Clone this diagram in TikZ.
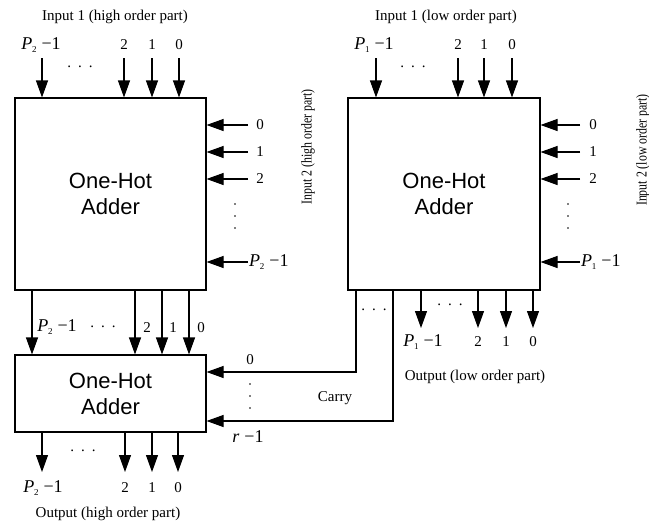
\documentclass[tikz,border=0pt]{standalone}
\usepackage{fontspec}
\setmainfont{Liberation Serif}
\newfontfamily\arialfam{Liberation Sans}
\usetikzlibrary{arrows.meta}
\newcommand\Pmo[1]{\textit{P}\kern-0.3pt\raisebox{-0.45ex}{\fontsize{9}{9}\selectfont #1}\hspace{0.28em}−1}
\newcommand\hd{.\hspace{7pt}.\hspace{7pt}.}
\begin{document}
\begin{tikzpicture}[x=1pt,y=-1pt,
  box/.style={draw, line width=1.1pt, font=\arialfam\fontsize{22}{26}\selectfont, align=center, inner sep=0pt},
  arr/.style={line width=1.1pt, -{Triangle[length=17pt,width=12pt]}},
  lbl/.style={font=\fontsize{15}{18}\selectfont, inner sep=0pt},
  mlbl/.style={font=\fontsize{18}{20}\selectfont, inner sep=0pt},
  vdot/.style={circle, fill, inner sep=0pt, minimum size=1.8pt}
]
\useasboundingbox (0,0) rectangle (649,523);

% boxes
\node[box, minimum width=191pt, minimum height=192pt] (A) at (110.5,194) {One-Hot\\Adder};
\node[box, minimum width=192pt, minimum height=192pt] (B) at (444,194) {One-Hot\\Adder};
\node[box, minimum width=191pt, minimum height=77pt] (C) at (110.5,393.5) {One-Hot\\Adder};

% top inputs of A
\node[lbl] (tA) at (115,17) {Input 1 (high order part)};
\foreach \x [count=\i] in {42,124,152,179} {
  \coordinate (ia\i) at (\x,58);
  \draw[arr] (ia\i) -- (ia\i |- A.north);
}
\node[mlbl] (la1) at (41,45) {\Pmo{2}};
\node[lbl] (la2) at (124,45) {2};
\node[lbl] (la3) at (152,45) {1};
\node[lbl] (la4) at (179,45) {0};
\node[lbl] (da) at (80,67) {\hd};

% top inputs of B
\node[lbl] (tB) at (446,17) {Input 1 (low order part)};
\foreach \x [count=\i] in {376,458,484,512} {
  \coordinate (ib\i) at (\x,58);
  \draw[arr] (ib\i) -- (ib\i |- B.north);
}
\node[mlbl] (lb1) at (374,45) {\Pmo{1}};
\node[lbl] (lb2) at (458,45) {2};
\node[lbl] (lb3) at (484,45) {1};
\node[lbl] (lb4) at (512,45) {0};
\node[lbl] (db) at (413,67) {\hd};

% right inputs of A
\foreach \y [count=\i] in {125,152,179,262} {
  \coordinate (ra\i) at (248,\y);
  \draw[arr] (ra\i) -- (ra\i -| A.east);
}
\node[lbl] (rla1) at (260,125) {0};
\node[lbl] (rla2) at (260,152) {1};
\node[lbl] (rla3) at (260,179) {2};
\node[mlbl, anchor=west] (rla4) at (249,262) {\Pmo{2}};
\foreach \y [count=\i] in {204,216,228} {
  \node[vdot] (rda\i) at (235,\y) {};
}
\node[lbl, rotate=90] (sA) at (308,147) {\scalebox{0.79}[1]{Input 2 (high order part)}};

% right inputs of B
\foreach \y [count=\i] in {125,152,179,262} {
  \coordinate (rb\i) at (580,\y);
  \draw[arr] (rb\i) -- (rb\i -| B.east);
}
\node[lbl] (rlb1) at (593,125) {0};
\node[lbl] (rlb2) at (593,152) {1};
\node[lbl] (rlb3) at (593,179) {2};
\node[mlbl, anchor=west] (rlb4) at (581,262) {\Pmo{1}};
\foreach \y [count=\i] in {204,216,228} {
  \node[vdot] (rdb\i) at (568,\y) {};
}
\node[lbl, rotate=90] (sB) at (643,150) {\scalebox{0.79}[1]{Input 2 (low order part)}};

% A outputs to C
\foreach \x [count=\i] in {32,135,162,189} {
  \coordinate (oa\i) at (\x,0);
  \draw[arr] (oa\i |- A.south) -- (oa\i |- C.north);
}
\node[mlbl] (ola1) at (57,327) {\Pmo{2}};
\node[lbl] (dac) at (103,327) {\hd};
\node[lbl] (ola2) at (147,328) {2};
\node[lbl] (ola3) at (173,328) {1};
\node[lbl] (ola4) at (201,328) {0};

% B outputs
\foreach \x [count=\i] in {421,478,506,533} {
  \coordinate (ob\i) at (\x,328);
  \draw[arr] (ob\i |- B.south) -- (ob\i);
}
\node[mlbl] (olb1) at (423,342) {\Pmo{1}};
\node[lbl] (olb2) at (478,342) {2};
\node[lbl] (olb3) at (506,342) {1};
\node[lbl] (olb4) at (533,342) {0};
\node[lbl] (dbo) at (450,305) {\hd};
\node[lbl] (oB) at (475,377) {Output (low order part)};

% carry
\coordinate (k0) at (356,372);
\coordinate (k1) at (393,421);
\draw[arr] (k0 |- B.south) -- (k0) -- (k0 -| C.east);
\draw[arr] (k1 |- B.south) -- (k1) -- (k1 -| C.east);
\node[lbl] (dk) at (374,310) {\hd};
\node[lbl] (c0) at (250,360) {0};
\foreach \y [count=\i] in {384,396,408} {
  \node[vdot] (cd\i) at (250,\y) {};
}
\node[lbl] (carry) at (335,398) {Carry};
\node[mlbl] (cr) at (248,437) {\textit{r}\hspace{0.28em}−1};

% C outputs
\foreach \x [count=\i] in {42,125,152,178} {
  \coordinate (oc\i) at (\x,472);
  \draw[arr] (oc\i |- C.south) -- (oc\i);
}
\node[mlbl] (olc1) at (43,488) {\Pmo{2}};
\node[lbl] (olc2) at (125,488) {2};
\node[lbl] (olc3) at (152,488) {1};
\node[lbl] (olc4) at (178,488) {0};
\node[lbl] (dc) at (83,451) {\hd};
\node[lbl] (oC) at (108,514) {Output (high order part)};
\end{tikzpicture}
\end{document}
